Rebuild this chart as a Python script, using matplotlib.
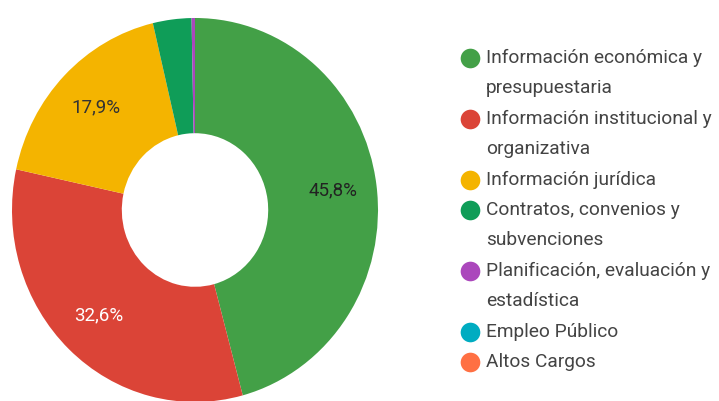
import numpy as np
import matplotlib.pyplot as plt

categories = ['Información económica y\npresupuestaria',
              'Información institucional y\norganizativa',
              'Información jurídica',
              'Contratos, convenios y\nsubvenciones',
              'Planificación, evaluación y\nestadística',
              'Empleo Público',
              'Altos Cargos']
values = [45.8, 32.6, 17.9, 3.4, 0.3, 0.0, 0.0]
colors = ['#43A047', '#DB4437', '#F4B400', '#0F9D58', '#AB47BC', '#00ACC1', '#FF7043']
label_colors = ['#222222', '#ffffff', '#333333', '#222222', '#222222', '#222222', '#222222']

plt.rcParams['font.family'] = ['Roboto', 'DejaVu Sans']

W, H = 719, 401
fig = plt.figure(figsize=(W / 100, H / 100), dpi=100)

### Donut (pixel geometry of the reference)
cx, cy = 195, 210
rx, ry = 183, 192
ax = fig.add_axes([(cx - rx) / W, (H - cy - ry) / H, 2 * rx / W, 2 * ry / H])
shown = [(v, c) for v, c in zip(values, colors) if v > 0]
wedges, _ = ax.pie([v for v, c in shown], colors=[c for v, c in shown],
                   startangle=90, counterclock=False,
                   wedgeprops=dict(width=0.6, linewidth=0))
ax.set_aspect('auto')
ax.set_xlim(-1, 1)
ax.set_ylim(-1, 1)
ax.axis('off')
for w in wedges:
    w.set_clip_on(False)

# percentage labels in the middle of the ring
total = sum(values)
start = 90.0
for v, lc in zip(values, label_colors):
    ang = np.deg2rad(start - 360 * v / total / 2)
    start -= 360 * v / total
    if v < 5:
        continue
    ax.text(0.76 * np.cos(ang), 0.76 * np.sin(ang), f'{v:.1f}%'.replace('.', ','),
            ha='center', va='center', fontsize=13.5, color=lc)

### Legend drawn in pixel coordinates
lax = fig.add_axes([0, 0, 1, 1])
lax.set_xlim(0, W)
lax.set_ylim(H, 0)
lax.axis('off')
y = 58
line_h = 30.4
for cat, col in zip(categories, colors):
    lax.scatter([470], [y], s=200, color=col, linewidths=0)
    lines = cat.split('\n')
    for k, ln in enumerate(lines):
        lax.text(486, y + k * line_h, ln, ha='left', va='center', fontsize=13.8, color='#444444')
    y += line_h * len(lines)

plt.savefig('out.png', dpi=100)
